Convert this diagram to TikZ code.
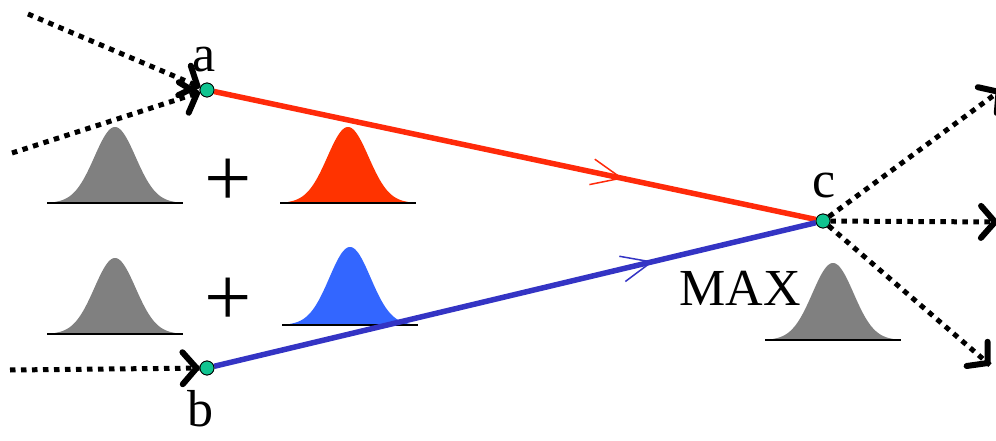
\documentclass[tikz,border=0pt]{standalone}
\usepackage{fontspec}
\setmainfont{Liberation Serif}
\usetikzlibrary{arrows.meta,decorations.markings}
\definecolor{dotgreen}{HTML}{10C490}
\definecolor{redline}{HTML}{FF2A0A}
\definecolor{blueline}{HTML}{3434C4}
\definecolor{redfill}{HTML}{FF3300}
\definecolor{bluefill}{HTML}{3366FF}
\definecolor{grayfill}{HTML}{808080}
\newcommand{\bellcurve}[4]{%
  \fill[#3] plot[domain=-60:60, samples=80, smooth] ({#1+\x},{#2-#4*exp(-((\x)^2)/850)}) -- cycle;
  \draw[line width=1.8pt] ({#1-68},#2) -- ({#1+68},#2);
}
\tikzset{
  vertex/.style={circle, draw=black, line width=0.8pt, fill=dotgreen, minimum size=14pt, inner sep=0pt},
  lab/.style={font=\fontsize{52}{52}\selectfont, inner sep=0pt},
  plussign/.style={font=\fontsize{84}{84}\selectfont, inner sep=0pt},
  dotedge/.style={line width=5pt, dash pattern=on 5.5pt off 5.5pt,
     postaction={decorate, decoration={markings, mark=at position 1 with
       {\draw[solid, line width=6pt, line cap=round, line join=round]
          (-17pt,16pt) -- (-3pt,0pt) -- (-17pt,-16pt);}}}},
  flowedge/.style={line width=5.5pt, postaction={decorate}},
  midarrow/.style={decoration={markings, mark=at position #1 with {\arrow{Straight Barb[length=30pt,width=26pt,line width=1.5pt]}}}}
}
\begin{document}
\begin{tikzpicture}[x=1pt,y=-1pt]
\useasboundingbox (0,0) rectangle (996,441);
% bell curves
\bellcurve{115}{203}{grayfill}{76}
\bellcurve{348}{203}{redfill}{76}
\bellcurve{115}{334}{grayfill}{76}
\bellcurve{350}{325}{bluefill}{78}
\bellcurve{833}{340}{grayfill}{77}
% plus signs
\node[plussign] (p1) at (228,183) {+};
\node[plussign] (p2) at (228,302) {+};
% vertices
\node[vertex] (a) at (207,90) {};
\node[vertex] (b) at (207,368) {};
\node[vertex] (c) at (823,221) {};
% labels
\node[lab, anchor=base] (la) at (204,72) {a};
\node[lab, anchor=base] (lb) at (200,426) {b};
\node[lab, anchor=base] (lc) at (824,197) {c};
\node[lab, anchor=base east] (lmax) at (801,305) {MAX};
% free ends
\coordinate (ia1) at (28,14);
\coordinate (ia2) at (12,153);
\coordinate (ib) at (10,370);
\coordinate (oc1) at (1001,90);
\coordinate (oc2) at (998,222);
\coordinate (oc3) at (990,365);
% main edges
\draw[flowedge, redline, midarrow=0.68] (a) -- (c);
\draw[flowedge, blueline, midarrow=0.73] (b) -- (c);
% dotted edges
\draw[dotedge] (ia1) -- (a);
\draw[dotedge] (ia2) -- (a);
\draw[dotedge] (ib) -- (b);
\draw[dotedge] (c) -- (oc1);
\draw[dotedge] (c) -- (oc2);
\draw[dotedge] (c) -- (oc3);
% redraw vertices on top
\node[vertex] at (a) {};
\node[vertex] at (b) {};
\node[vertex] at (c) {};
\end{tikzpicture}
\end{document}
